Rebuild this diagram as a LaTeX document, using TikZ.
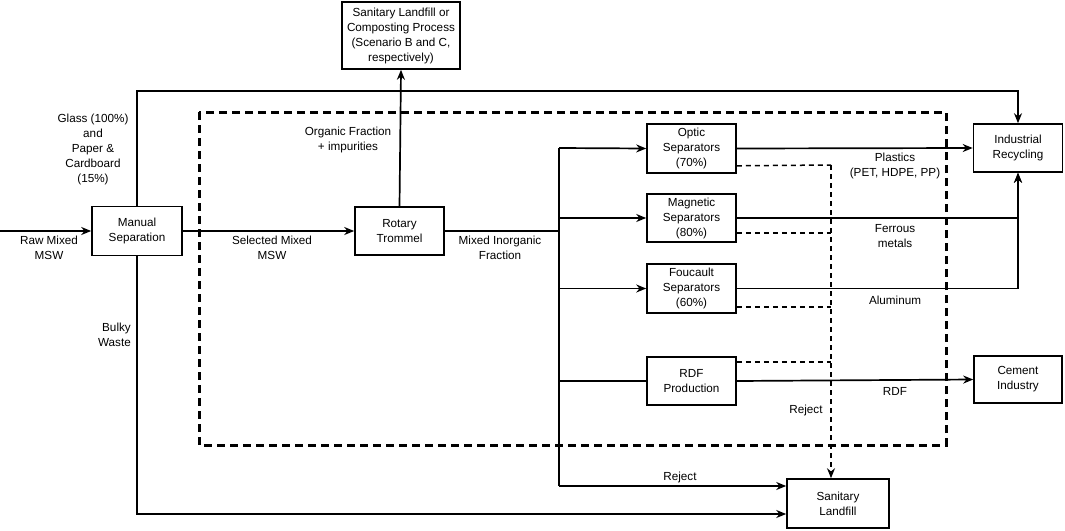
\documentclass[tikz,border=0pt]{standalone}
\usepackage{fontspec}
\setmainfont{Liberation Sans}
\usetikzlibrary{arrows.meta}
\begin{document}
\begin{tikzpicture}[x=1pt,y=-1pt,
  txt/.style={font=\fontsize{11.7}{15}\selectfont, align=center, inner sep=0pt},
  box/.style={draw, line width=1.6pt, align=center, inner sep=0pt, font=\fontsize{11.7}{15}\selectfont},
  flow/.style={line width=1.7pt},
  arr/.style={flow, -{Stealth[length=10pt,width=8pt]}},
  rej/.style={line width=1.5pt, dash pattern=on 5pt off 4pt},
  zone/.style={line width=3pt, dash pattern=on 8pt off 5pt}]
\useasboundingbox (0,0) rectangle (1065,530);

% dashed zone
\draw[zone] (199,112) rectangle (946,445);

% boxes
\node[box, minimum width=90pt, minimum height=49pt] (ms) at (137,231) {Manual\\Separation};
\node[box, minimum width=89pt, minimum height=48pt] (rt) at (399.5,231) {Rotary\\Trommel};
\node[box, minimum width=118pt, minimum height=67pt] (slc) at (401,35.5) {Sanitary Landfill or\\Composting Process\\(Scenario B and C,\\respectively)};
\node[box, minimum width=89pt, minimum height=49pt] (os) at (691.5,148.5) {Optic\\Separators\\(70\%)};
\node[box, minimum width=89pt, minimum height=48pt] (mag) at (691.5,218) {Magnetic\\Separators\\(80\%)};
\node[box, minimum width=89pt, minimum height=49pt] (fou) at (691.5,288.5) {Foucault\\Separators\\(60\%)};
\node[box, minimum width=89pt, minimum height=48pt] (rdf) at (691.5,381) {RDF\\Production};
\node[box, minimum width=89pt, minimum height=48pt] (ir) at (1018,148) {Industrial\\Recycling};
\node[box, minimum width=88pt, minimum height=47pt] (ci) at (1018,379.5) {Cement\\Industry};
\node[box, minimum width=102pt, minimum height=49pt] (sl) at (838,503.5) {Sanitary\\Landfill};

% coordinates
\coordinate (in) at (0,231);
\coordinate (tl) at (137,91);
\coordinate (tr) at (1018,91);
\coordinate (bl) at (137,514);
\coordinate (bus) at (559,231);
\coordinate (bustop) at (559,148);
\coordinate (busbot) at (559,486);
\coordinate (dvtop) at (831,165);
\coordinate (osr) at ([yshift=8pt]os.south east);
\coordinate (magr) at ([yshift=10pt]mag.south east);
\coordinate (four) at ([yshift=7pt]fou.south east);
\coordinate (rdfr) at ([yshift=-6pt]rdf.north east);

% main flows
\draw[arr] (in) -- (ms.west);
\draw[arr] (ms.east) -- (rt.west);
\draw[arr] (ms.north) -- (tl) -- (tr) -- (ir.north);
\draw[arr] (ms.south) -- (bl) -- (sl.west |- bl);
\draw[arr] (rt.north) -- (slc.south);
\draw[flow] (rt.east) -- (bus);
\draw[flow] (bustop) -- (busbot);
\draw[arr] (bustop) -- (os.west);
\draw[arr] (bus |- mag.west) -- (mag.west);
\draw[arr] (bus |- fou.west) -- (fou.west);
\draw[flow] (bus |- rdf.west) -- (rdf.west);
\draw[arr] (busbot) -- (sl.west |- busbot);
\draw[arr] (os.east) -- (ir.west);
\draw[arr] (mag.east) -| (ir.south);
\draw[arr] (fou.east) -| (ir.south);
\draw[arr] (rdf.east) -- (ci.west);

% reject dashed lines
\draw[rej] (osr) -- (dvtop);
\draw[rej] (magr) -- (dvtop |- magr);
\draw[rej] (four) -- (dvtop |- four);
\draw[rej] (rdfr) -- (dvtop |- rdfr);
\draw[rej, -{Stealth[length=10pt,width=8pt]}] (dvtop) -- (sl.north -| dvtop);

% labels
\node[txt] (l1) at (49,248) {Raw Mixed\\MSW};
\node[txt] (l2) at (93,149) {Glass (100\%)\\and\\Paper \&\\Cardboard\\(15\%)};
\node[txt, align=right, anchor=east] (l3) at (131,335) {Bulky\\Waste};
\node[txt] (l4) at (272,248) {Selected Mixed\\MSW};
\node[txt] (l5) at (348,140) {Organic Fraction\\+ impurities};
\node[txt] (l6) at (500,248) {Mixed Inorganic\\Fraction};
\node[txt] (l7) at (895,166) {Plastics\\(PET, HDPE, PP)};
\node[txt] (l8) at (895,236) {Ferrous\\metals};
\node[txt] (l9) at (895,300) {Aluminum};
\node[txt] (l10) at (895,391) {RDF};
\node[txt] (l11) at (806,410) {Reject};
\node[txt] (l12) at (680,477) {Reject};
\end{tikzpicture}
\end{document}
